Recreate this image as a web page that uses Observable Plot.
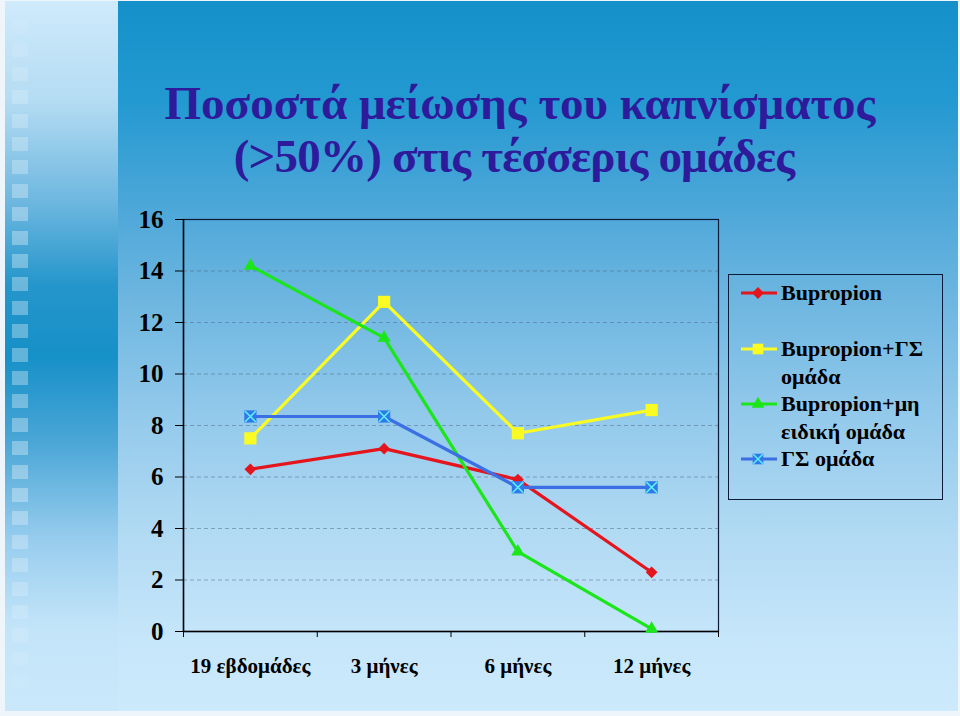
<!DOCTYPE html>
<html>
<head>
<meta charset="utf-8">
<script src="https://cdn.jsdelivr.net/npm/d3@7"></script>
<script src="https://cdn.jsdelivr.net/npm/@observablehq/plot@0.6"></script>
<style>
  body { margin: 0; background: #ffffff; }
  #page { position: relative; width: 960px; height: 716px; overflow: hidden; background: #eef6fc;
          font-family: "Liberation Serif", Tinos, "Times New Roman", Times, serif; }
  #stripe { position: absolute; left: 5px; top: 1px; width: 113px; height: 710px;
    background: linear-gradient(to bottom, #cfeafb 0%, #b4dcf3 14%, #6fb8e0 28%, #2596cb 40%, #1690c8 50%, #4aa6d6 62%, #98cdee 76%, #c2e4f9 88%, #cbe8fb 100%); }
  #squares { position: absolute; left: 12px; top: 20px; width: 16px; height: 670px;
    background: repeating-linear-gradient(to bottom, rgba(255,255,255,0.32) 0px, rgba(255,255,255,0.32) 14px, rgba(255,255,255,0) 14px, rgba(255,255,255,0) 23.4px);
    -webkit-mask-image: linear-gradient(to bottom, rgba(0,0,0,0.15) 0%, rgba(0,0,0,0.6) 12%, #000 30%, #000 70%, rgba(0,0,0,0.5) 88%, rgba(0,0,0,0.15) 100%);
    mask-image: linear-gradient(to bottom, rgba(0,0,0,0.15) 0%, rgba(0,0,0,0.6) 12%, #000 30%, #000 70%, rgba(0,0,0,0.5) 88%, rgba(0,0,0,0.15) 100%); }
  #main { position: absolute; left: 118px; top: 1px; width: 840px; height: 710px;
    background: linear-gradient(to bottom, #1590c9 0%, #2399d1 14%, #4aa6d8 28%, #6db6e0 42%, #92c9eb 58%, #b1daf3 75%, #c6e6fa 90%, #cceafb 100%); }
  #title { position: absolute; left: 120px; top: 77px; width: 800px; text-align: center;
    font-size: 47px; font-weight: bold; line-height: 53px; color: #2d1b9b; }
  #title .l2 { letter-spacing: -0.8px; position: relative; left: -6px; }
  #chart { position: absolute; left: 0; top: 0; }
  #legend { position: absolute; left: 728px; top: 274px; width: 213px; height: 224px;
    border: 1.5px solid #0d1b3a; }
  .lg-text { position: absolute; left: 781px; font-size: 22px; font-weight: bold; line-height: 27.5px; color: #000; white-space: nowrap; }
  .lg-sym { position: absolute; left: 740px; }
</style>
</head>
<body>
<div id="page">
  <div id="stripe"></div>
  <div id="squares"></div>
  <div id="main"></div>
  <div id="title">Ποσοστά μείωσης του καπνίσματος<br><span class="l2">(&gt;50%) στις τέσσερις ομάδες</span></div>
  <div id="chart"></div>
  <div id="legend"></div>
</div>
<script>
// ---- Data ----
const categories = ["19 εβδομάδες", "3 μήνες", "6 μήνες", "12 μήνες"];
const seriesNames = ["Bupropion", "Bupropion+ΓΣ ομάδα", "Bupropion+μη ειδική ομάδα", "ΓΣ ομάδα"];
const legendLines = [["Bupropion"], ["Bupropion+ΓΣ", "ομάδα"], ["Bupropion+μη", "ειδική ομάδα"], ["ΓΣ ομάδα"]];
const bupropion = [6.3, 7.1, 5.9, 2.3];
const bupropionGS = [7.5, 12.8, 7.7, 8.6];
const bupropionNonSpecific = [14.2, 11.4, 3.1, 0.1];
const gsGroup = [8.35, 8.35, 5.6, 5.6];
const yTicks = [0, 2, 4, 6, 8, 10, 12, 14, 16];

const seriesValues = [bupropion, bupropionGS, bupropionNonSpecific, gsGroup];
const colors = ["#e4151d", "#fbfb24", "#1ae61a", "#3b6fe4"];
const serifStack = '"Liberation Serif", Tinos, "Times New Roman", Times, serif';

const rows = seriesValues.map((vals, s) =>
  vals.map((v, i) => ({series: seriesNames[s], cat: categories[i], xi: i + 0.5, v})));

const markerMarks = [
  rows => Plot.dot(rows, {x: "xi", y: "v", symbol: d3.symbolDiamond2, r: 5.3, fill: colors[0], stroke: "none"}),
  rows => Plot.dot(rows, {x: "xi", y: "v", symbol: "square", r: 6.9, fill: colors[1], stroke: "none"}),
  rows => Plot.dot(rows, {x: "xi", y: "v", symbol: "triangle", r: 4.9, fill: colors[2], stroke: "none"}),
  rows => [
    Plot.dot(rows, {x: "xi", y: "v", symbol: "square", r: 6.9, fill: "#2f7ae8", stroke: "none"}),
    Plot.dot(rows, {x: "xi", y: "v", symbol: "times", r: 5.0, stroke: "#5ef0ff", strokeWidth: 1.5, fill: "none"})
  ]
];

const seriesMarks = rows.flatMap((r, s) => [
  Plot.line(r, {x: "xi", y: "v", stroke: colors[s], strokeWidth: 3.2}),
  markerMarks[s](r)
]).flat();

const chart = Plot.plot({
  width: 960,
  height: 716,
  marginLeft: 183,
  marginRight: 242,
  marginTop: 219,
  marginBottom: 85,
  style: {background: "transparent", fontFamily: serifStack, color: "#000", overflow: "visible"},
  x: {domain: [0, categories.length]},
  y: {domain: [0, 16]},
  marks: [
    Plot.gridY(yTicks.filter(t => t > 0 && t < 16), {stroke: "#4d6680", strokeOpacity: 0.5, strokeDasharray: "4,3"}),
    Plot.frame({stroke: "#0d1b3a", strokeWidth: 1.2}),
    Plot.axisY({ticks: yTicks, tickSize: 8, tickPadding: 12, fontSize: 25, fontWeight: "bold", label: null, tickFormat: d => String(d)}),
    Plot.axisX({ticks: d3.range(categories.length + 1), tickSize: 6, tickFormat: () => "", label: null}),
    Plot.axisX({ticks: categories.map((c, i) => i + 0.5), tickSize: 0, tickPadding: 27, fontSize: 21, fontWeight: "bold",
                tickFormat: d => categories[Math.floor(d)], label: null}),
    Plot.ruleX([0], {stroke: "#000", strokeWidth: 1.5}),
    Plot.ruleY([0], {stroke: "#000", strokeWidth: 1.5}),
    ...seriesMarks
  ]
});
document.getElementById("chart").appendChild(chart);

// ---- Legend ----
const page = document.getElementById("page");
const markerY = [293, 349, 404, 459];
const symbolFor = [d3.symbolDiamond2, d3.symbolSquare, d3.symbolTriangle, d3.symbolSquare];
const symSize = [Math.PI * 5.3 * 5.3, Math.PI * 6.0 * 6.0, Math.PI * 4.7 * 4.7, Math.PI * 6.0 * 6.0];
seriesNames.forEach((name, s) => {
  const svg = d3.create("svg").attr("class", "lg-sym").attr("width", 38).attr("height", 18)
    .style("top", (markerY[s] - 9) + "px");
  svg.append("line").attr("x1", 1).attr("x2", 37).attr("y1", 9).attr("y2", 9)
    .attr("stroke", colors[s]).attr("stroke-width", 3);
  svg.append("path").attr("transform", "translate(18,9)")
    .attr("d", d3.symbol(symbolFor[s], symSize[s])())
    .attr("fill", s === 3 ? "#2f7ae8" : colors[s]);
  if (s === 3) {
    svg.append("path").attr("transform", "translate(18,9)")
      .attr("d", d3.symbol(d3.symbolTimes, 60)())
      .attr("fill", "none").attr("stroke", "#5ef0ff").attr("stroke-width", 1.4);
  }
  page.appendChild(svg.node());
  const t = document.createElement("div");
  t.className = "lg-text";
  t.style.top = (markerY[s] + 7 - 21) + "px";
  t.innerHTML = legendLines[s].join("<br>");
  page.appendChild(t);
});
</script>
</body>
</html>
